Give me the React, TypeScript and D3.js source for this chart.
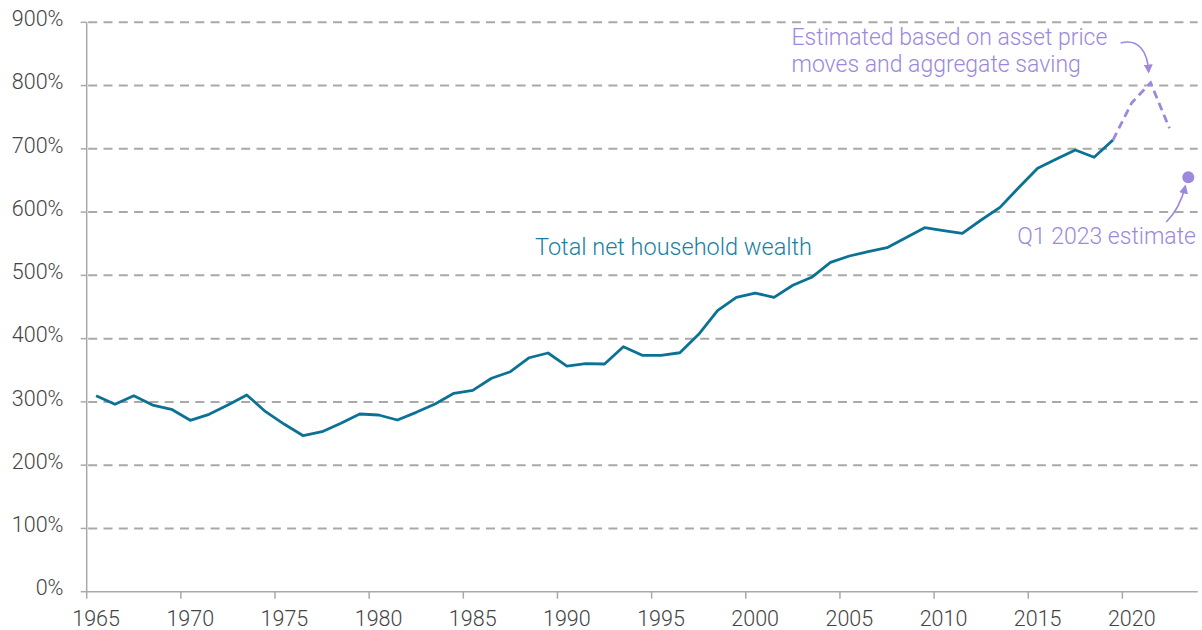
import React from "react";
import * as d3 from "d3";

// net household wealth as % of disposable income
const years = [
  1965, 1966, 1967, 1968, 1969, 1970, 1971, 1972, 1973, 1974,
  1975, 1976, 1977, 1978, 1979, 1980, 1981, 1982, 1983, 1984,
  1985, 1986, 1987, 1988, 1989, 1990, 1991, 1992, 1993, 1994,
  1995, 1996, 1997, 1998, 1999, 2000, 2001, 2002, 2003, 2004,
  2005, 2006, 2007, 2008, 2009, 2010, 2011, 2012, 2013, 2014,
  2015, 2016, 2017, 2018, 2019,
];
const wealth = [
  309.8, 296.2, 309.8, 295.0, 288.3, 270.9, 280.4, 295.0, 310.9, 284.5,
  264.6, 246.6, 252.9, 266.2, 280.9, 279.3, 271.4, 283.5, 296.7, 313.6,
  318.3, 337.3, 347.7, 369.8, 377.3, 356.7, 360.4, 359.9, 387.2, 373.6,
  373.6, 377.7, 406.8, 444.1, 465.3, 472.1, 465.3, 484.3, 496.9, 520.6,
  530.6, 537.4, 543.7, 559.5, 575.3, 570.6, 566.5, 587.5, 607.5, 638.9,
  669.2, 684.0, 698.1, 686.6, 713.9,
];
const estYears = [2019, 2020, 2021, 2022];
const estWealth = [713.9, 772.9, 804.5, 732.4];
const q1Year = 2023;
const q1Value = 655;

const yTicks = [0, 100, 200, 300, 400, 500, 600, 700, 800, 900];
const xTicks = [1965, 1970, 1975, 1980, 1985, 1990, 1995, 2000, 2005, 2010, 2015, 2020];

const W = 1202, H = 630;
const left = 86.7, right = 1197.7, top = 22.3, bottom = 591.7;
const teal = "#0c7295";
const tealText = "#1b7fa2";
const purple = "#9d88dc";
const grid = "#a9a9a9";
const font = "Roboto, 'Noto Sans', sans-serif";

export default function App() {
  const x = d3.scaleLinear().domain([1965, 2024]).range([left, right]);
  const y = d3.scaleLinear().domain([0, 900]).range([bottom, top]);
  // annual values (and the year labels) sit in the middle of each year
  const px = (yr: number) => x(yr + 0.5);

  const line = d3.line<number>()
    .x((_, i) => px(years[i]))
    .y((d) => y(d));
  const estLine = d3.line<number>()
    .x((_, i) => px(estYears[i]))
    .y((d) => y(d));

  const peakX = px(2021), peakY = y(804.5);
  const dotX = px(q1Year), dotY = y(q1Value);

  return (
    <svg width={W} height={H} style={{ position: "absolute", left: 0, top: 0 }}
      fontFamily={font} fontWeight={300}>
      <defs>
        <marker id="arr" viewBox="0 0 10 10" refX="8" refY="5" markerWidth="9" markerHeight="9"
          markerUnits="userSpaceOnUse" orient="auto">
          <path d="M0,0 L10,5 L0,10 Z" fill={purple} />
        </marker>
      </defs>

      {yTicks.filter((t) => t > 0).map((t) => (
        <line key={"g" + t} x1={left + 1.5} x2={right} y1={y(t)} y2={y(t)}
          stroke={grid} strokeWidth={2} strokeDasharray="9,6.3" />
      ))}
      {yTicks.map((t) => (
        <g key={"y" + t}>
          <line x1={left - 6} x2={left} y1={y(t)} y2={y(t)} stroke={grid} strokeWidth={1.5} />
          <text x={63.5} y={y(t) - 2} textAnchor="end" dominantBaseline="middle"
            fontSize={21.5} fill="#444">{t}%</text>
        </g>
      ))}
      <line x1={left} x2={left} y1={top} y2={bottom} stroke={grid} strokeWidth={1.5} />
      <line x1={left} x2={right} y1={bottom} y2={bottom} stroke={grid} strokeWidth={1.5} />
      {xTicks.map((t) => (
        <g key={"x" + t}>
          <line x1={x(t)} x2={x(t)} y1={bottom} y2={bottom + 7} stroke={grid} strokeWidth={1.5} />
          <text x={px(t)} y={625.5} textAnchor="middle" fontSize={21.5} fill="#444">{t}</text>
        </g>
      ))}

      <path d={line(wealth) || ""} fill="none" stroke={teal} strokeWidth={2.8}
        strokeLinejoin="round" />
      <path d={estLine(estWealth) || ""} fill="none" stroke={purple} strokeWidth={2.8}
        strokeDasharray="8,5" />
      <circle cx={dotX} cy={dotY} r={6} fill={purple} />

      <text x={535} y={255} fontSize={23.5} fill={tealText}>Total net household wealth</text>

      <text x={791.5} y={45} fontSize={23} fill={purple}>Estimated based on asset price</text>
      <text x={791.5} y={72} fontSize={23} fill={purple}>moves and aggregate saving</text>
      <path d={`M${peakX - 30},${43} C${peakX - 12},${38} ${peakX - 3},${52} ${peakX - 2},${peakY - 11}`}
        fill="none" stroke={purple} strokeWidth={1.6} markerEnd="url(#arr)" />

      <text x={1196} y={243.5} textAnchor="end" fontSize={23} fill={purple}>Q1 2023 estimate</text>
      <path d={`M${dotX - 22},${222} C${dotX - 13},${213} ${dotX - 7},${203} ${dotX - 3},${dotY + 9}`}
        fill="none" stroke={purple} strokeWidth={1.6} markerEnd="url(#arr)" />
    </svg>
  );
}
